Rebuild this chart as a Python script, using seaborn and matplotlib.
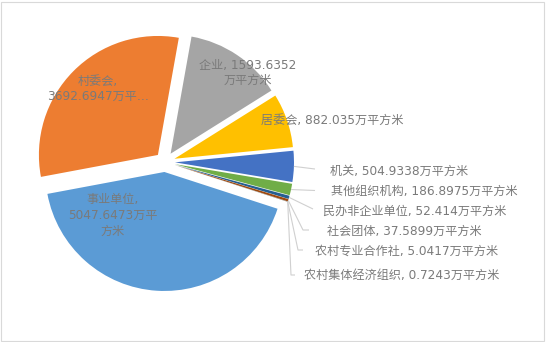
import matplotlib
matplotlib.use("Agg")
import matplotlib.pyplot as plt
import seaborn as sns
import numpy as np
from matplotlib.patches import Rectangle

# ---------------- data ----------------
names = ["事业单位", "村委会", "企业", "居委会", "机关", "其他组织机构",
         "民办非企业单位", "社会团体", "农村专业合作社", "农村集体经济组织"]
values = [5047.6473, 3692.6947, 1593.6352, 882.035, 504.9338, 186.8975,
          52.414, 37.5899, 5.0417, 0.7243]
value_text = ["5047.6473", "3692.6947", "1593.6352", "882.035", "504.9338",
              "186.8975", "52.414", "37.5899", "5.0417", "0.7243"]
unit = "万平方米"
colors = ["#5B9BD5", "#ED7D31", "#A5A5A5", "#FFC000", "#4472C4", "#70AD47",
          "#255E91", "#9E480E", "#636363", "#997300"]

# ---------------- style ----------------
sns.set_theme(style="white")
plt.rcParams["font.family"] = ["DejaVu Sans", "Noto Sans CJK SC"]

W, H = 546, 342
CX, CY, R = 165, 162, 119  # pie centre and radius in pixels (y from top)

fig = plt.figure(figsize=(W / 100, H / 100), dpi=100)
ax = fig.add_axes([0, 0, 1, 1])

wedges, _ = ax.pie(values, colors=colors, startangle=-18, counterclock=False,
                   explode=[0.084] * len(values), radius=1,
                   wedgeprops=dict(linewidth=0))
ax.set_xlim(-CX / R, (W - CX) / R)
ax.set_ylim(-(H - CY) / R, CY / R)
ax.set_aspect("auto")
ax.axis("off")


def px(x, y):
    return ((x - CX) / R, (CY - y) / R)


TXT = "#7a7a7a"
FS = 8.7

# labels inside the big slices
inside = {
    0: ("{n},\n{v}万平\n方米", (113, 215.5)),
    1: ("{n},\n{v}万平…", (98, 89)),
    2: ("{n}, {v}\n万平方米", (248, 73)),
    3: ("{n}, {v}万平方米", (332, 120)),
}
for i, (fmt, pos) in inside.items():
    ax.text(*px(*pos), fmt.format(n=names[i], v=value_text[i]),
            ha="center", va="center", fontsize=FS, color=TXT,
            linespacing=1.25)

# labels outside with leader lines
outside = {
    4: ((330, 171), [(315, 169)]),
    5: ((331, 191), [(315, 190.5)]),
    6: ((323, 211), [(313, 209)]),
    7: ((327, 231), [(303, 230), (309, 230)]),
    8: ((315, 251), [(298, 250), (303, 250)]),
    9: ((304, 275), [(291, 275), (295, 275)]),
}
for i, (pos, pts) in outside.items():
    w = wedges[i]
    mid = np.deg2rad((w.theta1 + w.theta2) / 2)
    ax0 = w.center[0] + w.r * np.cos(mid)
    ay0 = w.center[1] + w.r * np.sin(mid)
    xs = [ax0] + [px(*p)[0] for p in pts]
    ys = [ay0] + [px(*p)[1] for p in pts]
    ax.plot(xs, ys, color="#d0d0d0", lw=0.8, solid_capstyle="butt")
    ax.text(*px(*pos), f"{names[i]}, {value_text[i]}{unit}",
            ha="left", va="center", fontsize=FS, color=TXT)

fig.patches.append(Rectangle((0.5 / W, 1.5 / H), (W - 3) / W, (H - 3) / H,
                             transform=fig.transFigure, fill=False,
                             edgecolor="#d9d9d9", lw=0.8))

fig.savefig("out.png", dpi=100)
